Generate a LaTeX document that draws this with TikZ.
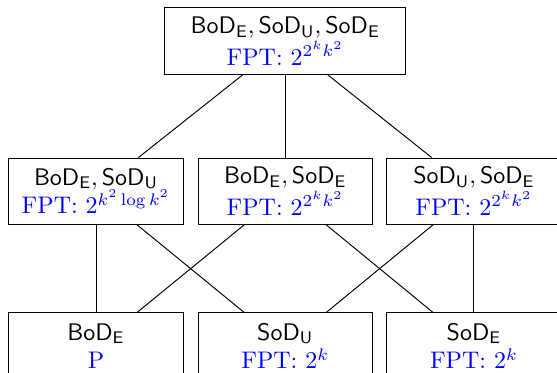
\documentclass[tikz,border=0pt]{standalone}
\usepackage{amsmath, amssymb, tikz}

\tikzset{box/.style={draw, align=center, minimum width=2.55cm, minimum height=0.97cm, inner sep=2pt}}
\newcommand{\fpt}[1]{\textcolor{blue}{#1}}

\begin{document}
\begin{tikzpicture}
        \useasboundingbox (0,0) rectangle (8.157,-5.462);
        \node[box, minimum width=3.53cm, minimum height=0.98cm] (all) at (4.178,-0.601) {$\mathsf{BoD_E}, \mathsf{SoD_U}, \mathsf{SoD_E}$\\ \fpt{FPT: $2^{2^k k^2}$}};
        \node[box] (bodsodu) at (1.406,-2.80) {$\mathsf{BoD_E}, \mathsf{SoD_U}$\\ \fpt{FPT: $2^{k^2 \log k^2}$}};
        \node[box] (bodsode) at (4.178,-2.80) {$\mathsf{BoD_E}, \mathsf{SoD_E}$\\ \fpt{FPT: $2^{2^k k^2}$}};
        \node[box] (sodusode) at (6.941,-2.80) {$\mathsf{SoD_U}, \mathsf{SoD_E}$\\ \fpt{FPT: $2^{2^k k^2}$}};
        \node[box] (bode) at (1.406,-5.068) {$\mathsf{BoD_E}$\\ \fpt{P}};
        \node[box] (sodu) at (4.178,-5.068) {$\mathsf{SoD_U}$\\ \fpt{FPT: $2^k$}};
        \node[box] (sode) at (6.941,-5.068) {$\mathsf{SoD_E}$\\ \fpt{FPT: $2^k$}};
        \draw (all) -- (bodsodu);
        \draw (all) -- (bodsode);
        \draw (all) -- (sodusode);
        \draw (bodsodu) -- (bode);
        \draw (bodsodu) -- (sodu);
        \draw (bodsode) -- (bode);
        \draw (bodsode) -- (sode);
        \draw (sodusode) -- (sodu);
        \draw (sodusode) -- (sode);
    \end{tikzpicture}
\end{document}
